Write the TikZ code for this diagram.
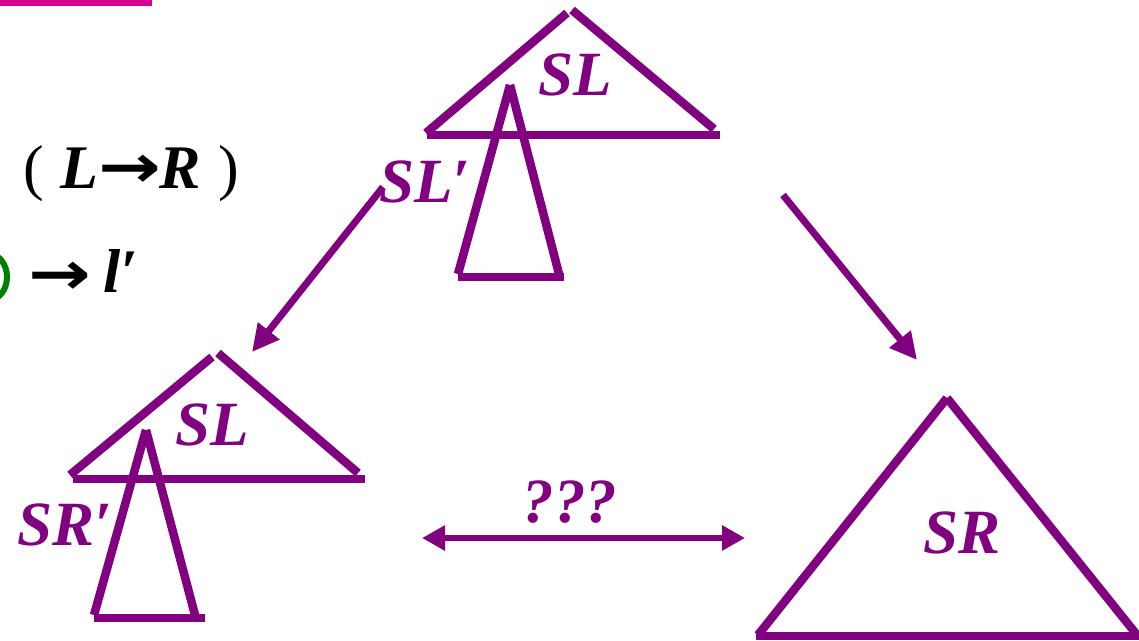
\documentclass[tikz,border=0pt]{standalone}
\usepackage{fontspec}
\setmainfont{Liberation Serif}
\newfontfamily\arrfont{DejaVu Sans}
\usetikzlibrary{arrows.meta}
\definecolor{tpurple}{RGB}{128,0,128}
\definecolor{tmag}{RGB}{214,0,147}
\definecolor{tgreen}{RGB}{0,128,0}
\tikzset{
  tri/.style={draw=tpurple,line width=8.5pt,line cap=butt},
  lbl/.style={text=tpurple,font=\fontsize{63}{63}\selectfont\bfseries\itshape,inner sep=0pt,anchor=base},
  blk/.style={text=black,font=\fontsize{62}{62}\selectfont\bfseries\itshape,inner sep=0pt,anchor=base},
  par/.style={text=black,font=\fontsize{62}{62}\selectfont,inner sep=0pt,anchor=base},
  arrtxt/.style={text=black,font=\fontsize{60}{60}\selectfont\arrfont\bfseries,inner sep=0pt,anchor=center},
  arr/.style={draw=tpurple,line width=7pt,-{Triangle[length=27pt,width=26pt]}},
  darr/.style={draw=tpurple,line width=6pt,{Triangle[length=23pt,width=24pt]}-{Triangle[length=23pt,width=24pt]}}
}
\begin{document}
\begin{tikzpicture}[x=1pt,y=-1pt]
\begin{scope}
\clip (0,0) rectangle (1139,640);
\useasboundingbox (0,0) rectangle (1139,640);
% magenta bar
\fill[tmag] (0,0) rectangle (152,6);
% green partial ring
\draw[tgreen,line width=6pt] (-11,277) ellipse [x radius=18pt,y radius=23pt];
% left text
\node[par] (lp) at (34,188) {(};
\node[blk] (ll) at (79,188) {L};
\node[arrtxt] (la) at (130,171) {\scalebox{1.25}[1]{→}};
\node[blk] (lr) at (180,188) {R};
\node[par] (rp) at (229,188) {)};
\node[arrtxt] (ar) at (60,278) {\scalebox{1.25}[1]{→}};
\node[blk] (lprime) at (121,292) {l′};
% top triangle SL
\draw[tri] (426,133) -- (567,13);
\draw[tri] (572,10) -- (714,129);
\draw[tri] (427,135) -- (720,135);
\draw[tri] (510,85) -- (458,274);
\draw[tri] (510,85) -- (559,274);
\draw[tri] (458,277) -- (564,277);
\node[lbl] (slt) at (575,95) {SL};
\node[lbl] (slp) at (425,202) {SL′};
% bottom-left triangle
\draw[tri] (70,475) -- (212,357);
\draw[tri] (218,353) -- (358,473);
\draw[tri] (73,479) -- (365,479);
\draw[tri] (146,430) -- (94,615);
\draw[tri] (146,430) -- (195,615);
\draw[tri] (94,618) -- (205,618);
\node[lbl] (slb) at (212,445) {SL};
\node[lbl] (srp) at (65,545) {SR′};
% right triangle
\draw[tri] (947,398) -- (758,635);
\draw[tri] (947,398) -- (1137,635);
\draw[tri] (756,636) -- (1139,636);
\node[lbl] (sr) at (962,553) {SR};
% arrows
\coordinate (a1s) at (383,187);
\coordinate (a1e) at (252,352);
\coordinate (a2s) at (783,195);
\coordinate (a2e) at (917,360);
\coordinate (a3s) at (422,538);
\coordinate (a3e) at (745,538);
\draw[arr] (a1s) -- (a1e);
\draw[arr] (a2s) -- (a2e);
\draw[darr] (a3s) -- (a3e);
\node[lbl] (qq) at (570,522) {???};
\end{scope}
\end{tikzpicture}
\end{document}
